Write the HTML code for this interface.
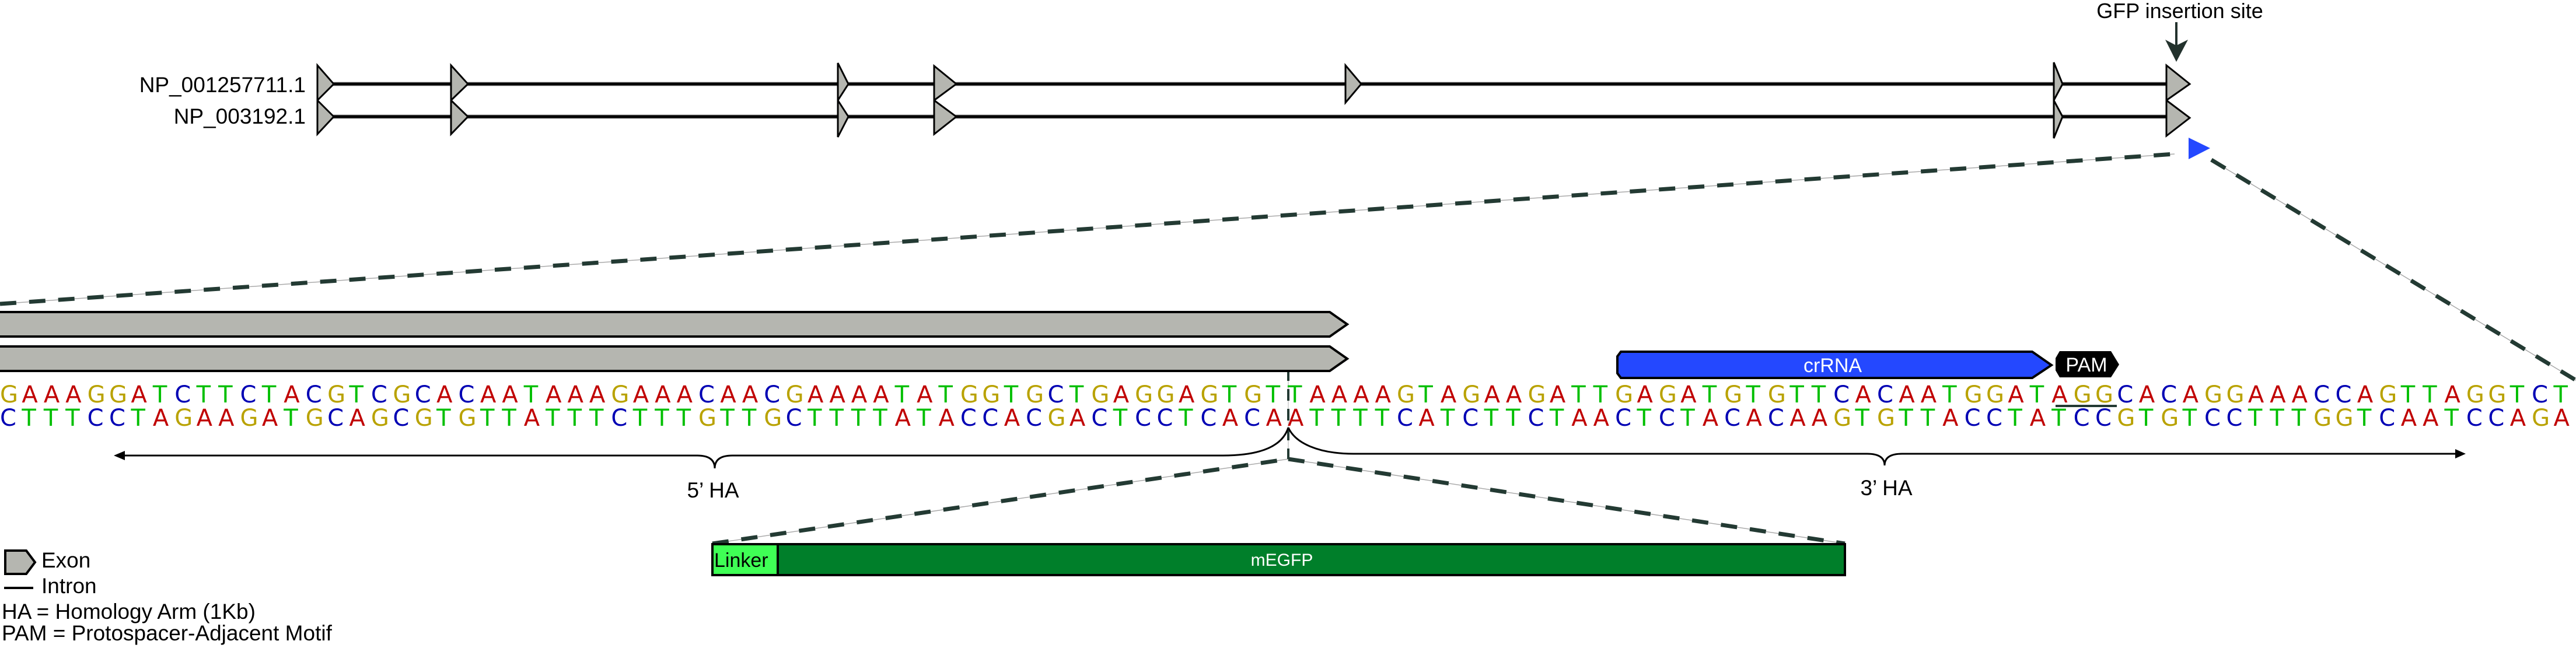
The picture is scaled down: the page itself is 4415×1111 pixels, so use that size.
<!DOCTYPE html>
<html><head><meta charset="utf-8"><style>
html,body{margin:0;padding:0;background:#fff;}
#wrap{position:relative;width:4415px;height:1111px;overflow:hidden;background:#fff;}
svg{position:absolute;left:0;top:0;}
.seq{position:absolute;left:0;height:40px;font-family:"DejaVu Sans",sans-serif;font-size:40px;line-height:40px;white-space:nowrap;}
.seq span{display:inline-block;width:37.41px;text-align:left;}
.A{color:#c00000}.T{color:#00bf00}.C{color:#0000b4}.G{color:#b9a200}
</style></head><body><div id="wrap">
<svg width="4415" height="1111" viewBox="0 0 4415 1111" xmlns="http://www.w3.org/2000/svg" font-family="Liberation Sans, Arial, sans-serif">
<text x="524" y="158" font-size="37" text-anchor="end">NP_001257711.1</text>
<text x="524" y="212" font-size="37" text-anchor="end">NP_003192.1</text>
<text x="3736" y="31" font-size="36" text-anchor="middle">GFP insertion site</text>
<line x1="3730" y1="38" x2="3730" y2="80" stroke="#23322d" stroke-width="4"/>
<polygon points="3711,68 3730,78 3750,68 3730,106" fill="#23322d"/>
<line x1="544" y1="144" x2="3713" y2="144" stroke="#999" stroke-width="7"/>
<line x1="544" y1="144" x2="3713" y2="144" stroke="#000" stroke-width="5"/>
<line x1="544" y1="200" x2="3713" y2="200" stroke="#999" stroke-width="7"/>
<line x1="544" y1="200" x2="3713" y2="200" stroke="#000" stroke-width="5"/>
<g fill="#b5b6b0" stroke="#000" stroke-width="3" stroke-linejoin="miter">
<polygon points="544,112 572,144 544,172"/><polygon points="544,172 572,200 544,230"/>
<polygon points="773,112 802,144 773,172"/><polygon points="773,172 802,200 773,230"/>
<polygon points="1436,108 1454,144 1436,172"/><polygon points="1436,172 1454,200 1436,235"/>
<polygon points="1601,113 1639,144 1601,172"/><polygon points="1601,172 1639,200 1601,230"/>
<polygon points="2306,112 2333,144 2306,176"/>
<polygon points="3520,107 3535,144 3520,172"/><polygon points="3520,172 3535,200 3520,237"/>
<polygon points="3713,112 3753,144 3713,172"/><polygon points="3713,172 3753,202 3713,233"/>
</g>
<polygon points="3751,236 3788,254 3751,273" fill="#2448ff"/>
<g stroke-linecap="butt">
<line x1="0" y1="521" x2="3727" y2="264" stroke="#aaa" stroke-width="1.5"/>
<line x1="0" y1="521" x2="3727" y2="264" stroke="#233a33" stroke-width="7" stroke-dasharray="28 22"/>
<line x1="3790" y1="274" x2="4415" y2="652" stroke="#aaa" stroke-width="1.5"/>
<line x1="3790" y1="274" x2="4415" y2="652" stroke="#233a33" stroke-width="7" stroke-dasharray="28 22"/>
<line x1="1221" y1="932" x2="2208" y2="787" stroke="#aaa" stroke-width="1.5"/>
<line x1="1221" y1="932" x2="2208" y2="787" stroke="#233a33" stroke-width="7" stroke-dasharray="28 22"/>
<line x1="2208" y1="787" x2="3162" y2="932" stroke="#aaa" stroke-width="1.5"/>
<line x1="2208" y1="787" x2="3162" y2="932" stroke="#233a33" stroke-width="7" stroke-dasharray="28 22"/>
<line x1="2208" y1="633" x2="2208" y2="787" stroke="#ccc" stroke-width="1.5"/>
<line x1="2208" y1="633" x2="2208" y2="787" stroke="#233a33" stroke-width="4" stroke-dasharray="20 14"/>
</g>
<g fill="#b5b6b0" stroke="#000" stroke-width="4">
<polygon points="-5,535 2279,535 2309,556 2279,577 -5,577"/>
<polygon points="-5,594 2279,594 2309,615 2279,636 -5,636"/>
</g>
<polygon points="2778,603 3483,603 3516,626 3483,648 2778,648 2772,640 2772,611" fill="#2448ff" stroke="#000" stroke-width="4"/>
<text x="3141" y="638" font-size="34" fill="#fff" text-anchor="middle">crRNA</text>
<polygon points="3530,602 3618,602 3632,625 3618,647 3530,647 3523,635 3523,614" fill="#000"/>
<text x="3576" y="637" font-size="34" fill="#fff" text-anchor="middle">PAM</text>
<rect x="3523" y="694" width="105" height="4" fill="#233a33"/>
<g fill="none" stroke="#000" stroke-width="3">
<path d="M210,781 L1195,781 Q1225,781 1225,803 Q1225,781 1255,781 L2096,781 C2160,781 2198,765 2208,733"/>
<path d="M2208,733 C2220,760 2260,778 2320,778 L3200,778 Q3230,778 3230,798 Q3230,778 3260,778 L4212,778"/>
</g>
<polygon points="195,781 214,773 214,789" fill="#000"/>
<polygon points="4226,778 4208,770 4208,786" fill="#000"/>
<text x="1222" y="853" font-size="37" text-anchor="middle">5’ HA</text>
<text x="3233" y="849" font-size="37" text-anchor="middle">3’ HA</text>
<rect x="1221" y="933" width="1941" height="53" fill="#007f2a" stroke="#000" stroke-width="4"/>
<rect x="1221" y="933" width="112" height="53" fill="#3fff55" stroke="#000" stroke-width="4"/>
<text x="1224" y="972" font-size="34" fill="#000">Linker</text>
<text x="2197" y="970" font-size="30" fill="#fff" text-anchor="middle">mEGFP</text>
<polygon points="9,944 45,944 60,964 45,984 9,984" fill="#b5b6b0" stroke="#000" stroke-width="4"/>
<text x="71" y="973" font-size="37">Exon</text>
<line x1="7" y1="1008" x2="57" y2="1008" stroke="#000" stroke-width="4"/>
<text x="71" y="1017" font-size="37">Intron</text>
<text x="3" y="1061" font-size="37">HA = Homology Arm (1Kb)</text>
<text x="3" y="1098" font-size="37">PAM = Protospacer-Adjacent Motif</text>
</svg>
<div class="seq" style="top:657px"><span class="G">G</span><span class="A">A</span><span class="A">A</span><span class="A">A</span><span class="G">G</span><span class="G">G</span><span class="A">A</span><span class="T">T</span><span class="C">C</span><span class="T">T</span><span class="T">T</span><span class="C">C</span><span class="T">T</span><span class="A">A</span><span class="C">C</span><span class="G">G</span><span class="T">T</span><span class="C">C</span><span class="G">G</span><span class="C">C</span><span class="A">A</span><span class="C">C</span><span class="A">A</span><span class="A">A</span><span class="T">T</span><span class="A">A</span><span class="A">A</span><span class="A">A</span><span class="G">G</span><span class="A">A</span><span class="A">A</span><span class="A">A</span><span class="C">C</span><span class="A">A</span><span class="A">A</span><span class="C">C</span><span class="G">G</span><span class="A">A</span><span class="A">A</span><span class="A">A</span><span class="A">A</span><span class="T">T</span><span class="A">A</span><span class="T">T</span><span class="G">G</span><span class="G">G</span><span class="T">T</span><span class="G">G</span><span class="C">C</span><span class="T">T</span><span class="G">G</span><span class="A">A</span><span class="G">G</span><span class="G">G</span><span class="A">A</span><span class="G">G</span><span class="T">T</span><span class="G">G</span><span class="T">T</span><span class="T">T</span><span class="A">A</span><span class="A">A</span><span class="A">A</span><span class="A">A</span><span class="G">G</span><span class="T">T</span><span class="A">A</span><span class="G">G</span><span class="A">A</span><span class="A">A</span><span class="G">G</span><span class="A">A</span><span class="T">T</span><span class="T">T</span><span class="G">G</span><span class="A">A</span><span class="G">G</span><span class="A">A</span><span class="T">T</span><span class="G">G</span><span class="T">T</span><span class="G">G</span><span class="T">T</span><span class="T">T</span><span class="C">C</span><span class="A">A</span><span class="C">C</span><span class="A">A</span><span class="A">A</span><span class="T">T</span><span class="G">G</span><span class="G">G</span><span class="A">A</span><span class="T">T</span><span class="A">A</span><span class="G">G</span><span class="G">G</span><span class="C">C</span><span class="A">A</span><span class="C">C</span><span class="A">A</span><span class="G">G</span><span class="G">G</span><span class="A">A</span><span class="A">A</span><span class="A">A</span><span class="C">C</span><span class="C">C</span><span class="A">A</span><span class="G">G</span><span class="T">T</span><span class="T">T</span><span class="A">A</span><span class="G">G</span><span class="G">G</span><span class="T">T</span><span class="C">C</span><span class="T">T</span></div>
<div class="seq" style="top:697px"><span class="C">C</span><span class="T">T</span><span class="T">T</span><span class="T">T</span><span class="C">C</span><span class="C">C</span><span class="T">T</span><span class="A">A</span><span class="G">G</span><span class="A">A</span><span class="A">A</span><span class="G">G</span><span class="A">A</span><span class="T">T</span><span class="G">G</span><span class="C">C</span><span class="A">A</span><span class="G">G</span><span class="C">C</span><span class="G">G</span><span class="T">T</span><span class="G">G</span><span class="T">T</span><span class="T">T</span><span class="A">A</span><span class="T">T</span><span class="T">T</span><span class="T">T</span><span class="C">C</span><span class="T">T</span><span class="T">T</span><span class="T">T</span><span class="G">G</span><span class="T">T</span><span class="T">T</span><span class="G">G</span><span class="C">C</span><span class="T">T</span><span class="T">T</span><span class="T">T</span><span class="T">T</span><span class="A">A</span><span class="T">T</span><span class="A">A</span><span class="C">C</span><span class="C">C</span><span class="A">A</span><span class="C">C</span><span class="G">G</span><span class="A">A</span><span class="C">C</span><span class="T">T</span><span class="C">C</span><span class="C">C</span><span class="T">T</span><span class="C">C</span><span class="A">A</span><span class="C">C</span><span class="A">A</span><span class="A">A</span><span class="T">T</span><span class="T">T</span><span class="T">T</span><span class="T">T</span><span class="C">C</span><span class="A">A</span><span class="T">T</span><span class="C">C</span><span class="T">T</span><span class="T">T</span><span class="C">C</span><span class="T">T</span><span class="A">A</span><span class="A">A</span><span class="C">C</span><span class="T">T</span><span class="C">C</span><span class="T">T</span><span class="A">A</span><span class="C">C</span><span class="A">A</span><span class="C">C</span><span class="A">A</span><span class="A">A</span><span class="G">G</span><span class="T">T</span><span class="G">G</span><span class="T">T</span><span class="T">T</span><span class="A">A</span><span class="C">C</span><span class="C">C</span><span class="T">T</span><span class="A">A</span><span class="T">T</span><span class="C">C</span><span class="C">C</span><span class="G">G</span><span class="T">T</span><span class="G">G</span><span class="T">T</span><span class="C">C</span><span class="C">C</span><span class="T">T</span><span class="T">T</span><span class="T">T</span><span class="G">G</span><span class="G">G</span><span class="T">T</span><span class="C">C</span><span class="A">A</span><span class="A">A</span><span class="T">T</span><span class="C">C</span><span class="C">C</span><span class="A">A</span><span class="G">G</span><span class="A">A</span></div>
</div></body></html>
